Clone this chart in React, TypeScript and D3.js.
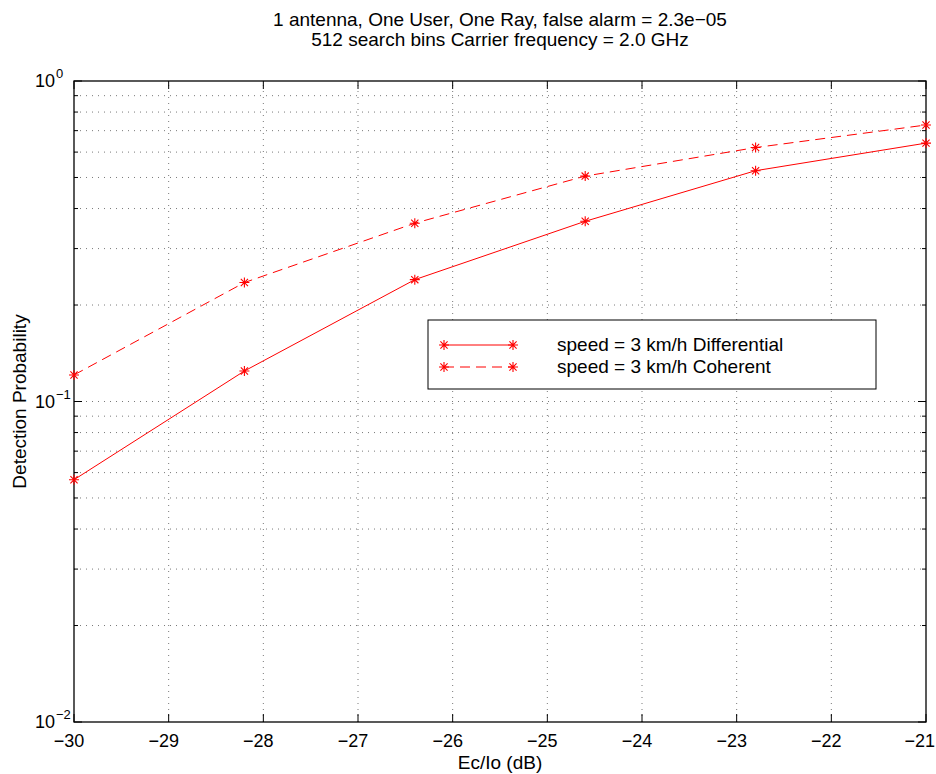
import React, { useEffect, useRef } from 'react';
import * as d3 from 'd3';

const titleLines = [
  '1 antenna, One User, One Ray, false alarm = 2.3e\u221205',
  '512 search bins Carrier frequency = 2.0 GHz',
];
const xValues = [-30, -28.2, -26.4, -24.6, -22.8, -21];
const differential = [0.057, 0.1245, 0.24, 0.365, 0.525, 0.64];
const coherent = [0.121, 0.235, 0.36, 0.505, 0.62, 0.729];
const xTicks = [-30, -29, -28, -27, -26, -25, -24, -23, -22, -21];
const yDecades = [-2, -1, 0];
const seriesNames = ['speed = 3 km/h Differential', 'speed = 3 km/h Coherent'];

const App: React.FC = () => {
  const svgRef = useRef<SVGSVGElement | null>(null);

  useEffect(() => {
    if (!svgRef.current) return;
    const svg = d3.select(svgRef.current);
    svg.selectAll('*').remove();

    const width = 936;
    const height = 774;
    const margin = { top: 81, right: 10, bottom: 52, left: 74 };
    const font = 'Liberation Sans, Arial, Helvetica, sans-serif';
    const fs = 19;
    const tickFs = 18;

    const x = d3.scaleLinear().domain([-30, -21]).range([margin.left, width - margin.right]);
    const y = d3.scaleLog().domain([0.01, 1]).range([height - margin.bottom, margin.top]);
    const [x0, x1] = x.range();
    const [y0, y1] = y.range();

    svg.append('rect').attr('width', width).attr('height', height).attr('fill', 'white');

    // minor y values (log grid)
    const minor: number[] = [];
    for (const d of yDecades.slice(0, -1)) {
      for (let k = 2; k <= 9; k++) minor.push(k * Math.pow(10, d));
    }
    const yGrid = [...minor, 0.1];

    const grid = svg.append('g')
      .attr('stroke', '#000')
      .attr('stroke-width', 0.7)
      .attr('stroke-dasharray', '1,5')
      .attr('opacity', 0.75);
    xTicks.slice(1, -1).forEach(t => {
      grid.append('line').attr('x1', x(t)).attr('x2', x(t)).attr('y1', y0).attr('y2', y1);
    });
    yGrid.forEach(v => {
      grid.append('line').attr('x1', x0).attr('x2', x1).attr('y1', y(v)).attr('y2', y(v));
    });

    // ticks
    const ticks = svg.append('g').attr('stroke', '#000').attr('stroke-width', 1);
    xTicks.forEach(t => {
      ticks.append('line').attr('x1', x(t)).attr('x2', x(t)).attr('y1', y0).attr('y2', y0 - 8);
      ticks.append('line').attr('x1', x(t)).attr('x2', x(t)).attr('y1', y1).attr('y2', y1 + 8);
    });
    yDecades.forEach(d => {
      const v = Math.pow(10, d);
      ticks.append('line').attr('x1', x0).attr('x2', x0 + 8).attr('y1', y(v)).attr('y2', y(v));
      ticks.append('line').attr('x1', x1).attr('x2', x1 - 8).attr('y1', y(v)).attr('y2', y(v));
    });
    minor.forEach(v => {
      ticks.append('line').attr('x1', x0).attr('x2', x0 + 4).attr('y1', y(v)).attr('y2', y(v));
      ticks.append('line').attr('x1', x1).attr('x2', x1 - 4).attr('y1', y(v)).attr('y2', y(v));
    });

    // box
    svg.append('rect')
      .attr('x', x0).attr('y', y1).attr('width', x1 - x0).attr('height', y0 - y1)
      .attr('fill', 'none').attr('stroke', '#000').attr('stroke-width', 1.3);

    // x tick labels
    xTicks.forEach((t, i) => {
      const last = i === xTicks.length - 1;
      svg.append('text')
        .attr('x', last ? width - 1 : x(t) - 5).attr('y', y0 + 25)
        .attr('text-anchor', last ? 'end' : 'middle')
        .style('font', `${tickFs}px ${font}`)
        .text(String(t).replace('-', '\u2212'));
    });

    // y tick labels (MATLAB keeps the "10" left-aligned)
    yDecades.forEach(d => {
      const t = svg.append('text')
        .attr('x', 35).attr('y', y(Math.pow(10, d)) + 6)
        .style('font', `${tickFs}px ${font}`);
      t.append('tspan').text('10');
      t.append('tspan').attr('dy', -9).attr('dx', 1).style('font-size', '13px').text(String(d).replace('-', '\u2212'));
    });

    // titles
    titleLines.forEach((s, i) => {
      svg.append('text')
        .attr('x', (x0 + x1) / 2).attr('y', 26 + i * 20)
        .attr('text-anchor', 'middle')
        .style('font', `${fs}px ${font}`)
        .text(s);
    });

    svg.append('text')
      .attr('x', (x0 + x1) / 2).attr('y', 769)
      .attr('text-anchor', 'middle')
      .style('font', `${fs}px ${font}`)
      .text('Ec/Io (dB)');

    svg.append('text')
      .attr('transform', `translate(26,${(y0 + y1) / 2}) rotate(-90)`)
      .attr('text-anchor', 'middle')
      .style('font', `${fs}px ${font}`)
      .text('Detection Probability');

    const red = '#ff0000';
    const drawStar = (g: d3.Selection<SVGGElement, unknown, null, undefined>, cx: number, cy: number) => {
      const r = 5;
      const rd = r * 0.72;
      const p = `M${cx - r},${cy}L${cx + r},${cy}M${cx},${cy - r}L${cx},${cy + r}` +
        `M${cx - rd},${cy - rd}L${cx + rd},${cy + rd}M${cx - rd},${cy + rd}L${cx + rd},${cy - rd}`;
      g.append('path').attr('d', p).attr('stroke', red).attr('stroke-width', 1.1).attr('fill', 'none');
    };

    const line = d3.line<number>().x((d, i) => x(xValues[i])).y(d => y(d));
    const series = [
      { values: differential, dash: null as string | null },
      { values: coherent, dash: '10,6' },
    ];

    const plot = svg.append('g');
    series.forEach(s => {
      plot.append('path')
        .datum(s.values)
        .attr('d', line)
        .attr('fill', 'none')
        .attr('stroke', red)
        .attr('stroke-width', 1)
        .attr('stroke-dasharray', s.dash);
      s.values.forEach((v, i) => drawStar(plot, x(xValues[i]), y(v)));
    });

    // legend
    const lg = svg.append('g');
    lg.append('rect')
      .attr('x', 428).attr('y', 320).attr('width', 448).attr('height', 69)
      .attr('fill', 'white').attr('stroke', '#000').attr('stroke-width', 1);
    series.forEach((s, i) => {
      const ly = 345 + i * 22;
      lg.append('line')
        .attr('x1', 444).attr('x2', 513).attr('y1', ly).attr('y2', ly)
        .attr('stroke', red).attr('stroke-width', 1)
        .attr('stroke-dasharray', s.dash);
      drawStar(lg, 444, ly);
      drawStar(lg, 513, ly);
      lg.append('text')
        .attr('x', 557).attr('y', ly + 6)
        .style('font', `${fs}px ${font}`)
        .text(seriesNames[i]);
    });
  }, []);

  return (
    <svg
      ref={svgRef}
      width={936}
      height={774}
      style={{ display: 'block', position: 'absolute', left: 0, top: 0 }}
    />
  );
};

export default App;
